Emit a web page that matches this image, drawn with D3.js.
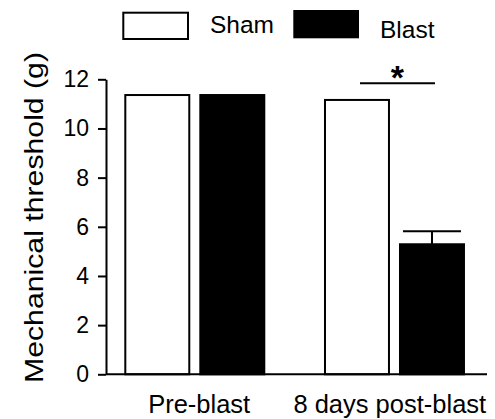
<!DOCTYPE html>
<html>
<head>
<meta charset="utf-8">
<script src="https://cdn.jsdelivr.net/npm/d3@7"></script>
<style>
  html, body { margin: 0; padding: 0; background: #fff; }
  svg { display: block; }
</style>
</head>
<body>
<script>
// ---- data ----
const groups = ["Pre-blast", "8 days post-blast"];
const series = ["Sham", "Blast"];
const shamValues = [11.36, 11.16];
const blastValues = [11.36, 5.29];
const blastErrors = [0, 0.53];
const yTicks = [0, 2, 4, 6, 8, 10, 12];
const sigGroup = "8 days post-blast";
const sigLevel = 11.84;
const sigLabel = "*";
const yTitle = "Mechanical threshold (g)";

// ---- layout ----
const W = 495, H = 419;
const svg = d3.select("body").append("svg").attr("width", W).attr("height", H);

const y = d3.scaleLinear().domain([0, 12]).range([374.3, 79.3]);
const x0 = d3.scaleBand().domain(groups).range([106, 487])
  .paddingInner(0.304).paddingOuter(0.106).align(0.456);
const x1 = d3.scaleBand().domain(series).range([0, x0.bandwidth()]).paddingInner(0.147);
const fills = { Sham: "#fff", Blast: "#000" };

const rows = groups.map((g, i) => ({ group: g, Sham: shamValues[i], Blast: blastValues[i], err: blastErrors[i] }));

// bars
const gGroups = svg.selectAll("g.grp").data(rows).enter().append("g")
  .attr("class", "grp").attr("transform", d => `translate(${x0(d.group)},0)`);
gGroups.selectAll("rect").data(d => series.map(s => ({ s, v: d[s] }))).enter().append("rect")
  .attr("x", d => x1(d.s))
  .attr("width", x1.bandwidth())
  .attr("y", d => y(d.v))
  .attr("height", d => y(0) - y(d.v))
  .attr("fill", d => fills[d.s])
  .attr("stroke", "#000").attr("stroke-width", 2);

// error bars (Blast)
rows.filter(d => d.err > 0).forEach(d => {
  const cx = x0(d.group) + x1("Blast") + x1.bandwidth() / 2;
  const g = svg.append("g").attr("stroke", "#000").attr("stroke-width", 2);
  g.append("line").attr("x1", cx).attr("x2", cx).attr("y1", y(d.Blast)).attr("y2", y(d.Blast + d.err));
  g.append("line").attr("x1", cx - 29).attr("x2", cx + 29).attr("y1", y(d.Blast + d.err)).attr("y2", y(d.Blast + d.err));
});

// significance
{
  const xa = x0(sigGroup) + x1("Sham") + x1.bandwidth() / 2 + 3;
  const xb = x0(sigGroup) + x1("Blast") + x1.bandwidth() / 2 + 3;
  svg.append("line").attr("x1", xa).attr("x2", xb).attr("y1", y(sigLevel)).attr("y2", y(sigLevel))
    .attr("stroke", "#000").attr("stroke-width", 2);
  svg.append("text").attr("x", (xa + xb) / 2).attr("y", y(sigLevel) + 6)
    .attr("text-anchor", "middle").attr("font-family", "Liberation Sans, Arial, sans-serif")
    .attr("font-size", 34).attr("font-weight", "bold").text(sigLabel);
}

// y axis
const yAxis = svg.append("g").attr("transform", "translate(106,0)")
  .call(d3.axisLeft(y).tickValues(yTicks).tickSize(8).tickPadding(9).tickSizeOuter(0));
yAxis.select(".domain").attr("stroke", "#000").attr("stroke-width", 2);
yAxis.selectAll(".tick line").attr("stroke", "#000").attr("stroke-width", 2);
yAxis.selectAll(".tick text").attr("font-family", "'Liberation Sans', Arial, sans-serif")
  .attr("font-size", 23).attr("fill", "#000");

// x axis baseline
svg.append("line").attr("x1", 106).attr("x2", 487).attr("y1", y(0)).attr("y2", y(0))
  .attr("stroke", "#000").attr("stroke-width", 2);

// x labels
const labelShift = { "Pre-blast": 4.4, "8 days post-blast": -4.7 };
svg.selectAll("text.xl").data(groups).enter().append("text").attr("class", "xl")
  .attr("x", d => x0(d) + x0.bandwidth() / 2 + labelShift[d])
  .attr("y", 413.3)
  .attr("text-anchor", "middle")
  .attr("font-family", "Liberation Sans, Arial, sans-serif")
  .attr("font-size", 25.5).attr("fill", "#000").text(d => d);

// y title
svg.append("text")
  .attr("transform", "translate(42.5,217.5) rotate(-90)")
  .attr("text-anchor", "middle")
  .attr("font-family", "Liberation Sans, Arial, sans-serif")
  .attr("font-size", 25.5)
  .attr("textLength", 331).attr("lengthAdjust", "spacingAndGlyphs")
  .attr("fill", "#000").text(yTitle);

// legend
svg.append("rect").attr("x", 123.3).attr("y", 12.7).attr("width", 64.7).attr("height", 26.3)
  .attr("fill", fills.Sham).attr("stroke", "#000").attr("stroke-width", 2);
svg.append("text").attr("x", 210).attr("y", 33.3)
  .attr("font-family", "Liberation Sans, Arial, sans-serif").attr("font-size", 24.5)
  .attr("fill", "#000").text(series[0]);
svg.append("rect").attr("x", 293.3).attr("y", 10).attr("width", 65.7).attr("height", 28.3)
  .attr("fill", fills.Blast);
svg.append("text").attr("x", 380).attr("y", 38.3)
  .attr("font-family", "Liberation Sans, Arial, sans-serif").attr("font-size", 24.5)
  .attr("fill", "#000").text(series[1]);
</script>
</body>
</html>
